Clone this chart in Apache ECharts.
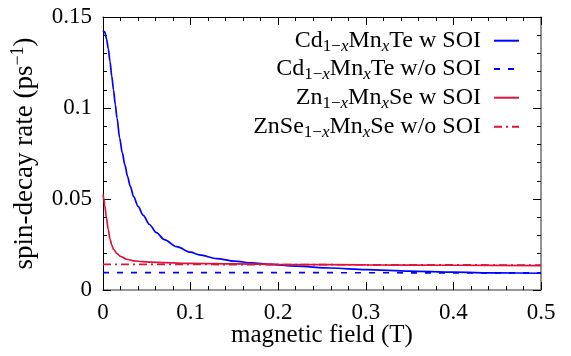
<!DOCTYPE html>
<html>
<head>
<meta charset="utf-8">
<script src="https://cdn.jsdelivr.net/npm/echarts@6/dist/echarts.min.js"></script>
<style>html,body{margin:0;padding:0;background:#fff}#c{width:571px;height:356px}</style>
</head>
<body>
<div id="c"></div>
<script>
// ---- data ----
const seriesNames = ['Cd1−xMnxTe w SOI', 'Cd1−xMnxTe w/o SOI', 'Zn1−xMnxSe w SOI', 'ZnSe1−xMnxSe w/o SOI'];
const legendRich = [
  'Cd{s|1−}{si|x}Mn{si|x}Te w SOI',
  'Cd{s|1−}{si|x}Mn{si|x}Te w/o SOI',
  'Zn{s|1−}{si|x}Mn{si|x}Se w SOI',
  'ZnSe{s|1−}{si|x}Mn{si|x}Se w/o SOI'
];
const xTicks = [0, 0.1, 0.2, 0.3, 0.4, 0.5];
const yTicks = [0, 0.05, 0.1, 0.15];

const fieldCdSOI = [0, 0.002, 0.004, 0.006, 0.008, 0.010, 0.012, 0.014, 0.016, 0.019, 0.022, 0.025, 0.028, 0.031, 0.035, 0.040, 0.046, 0.053, 0.061, 0.070, 0.084, 0.100, 0.110, 0.130, 0.150, 0.170, 0.190, 0.220, 0.260, 0.300, 0.350, 0.400, 0.450, 0.500];
const rateCdSOI  = [0.1425, 0.1418, 0.1380, 0.1327, 0.1255, 0.1175, 0.1100, 0.1020, 0.0945, 0.0835, 0.0755, 0.0687, 0.0625, 0.0572, 0.0513, 0.0460, 0.0410, 0.0360, 0.0315, 0.0277, 0.0238, 0.0208, 0.0193, 0.0172, 0.0159, 0.0149, 0.0141, 0.0131, 0.0121, 0.0112, 0.0104, 0.0098, 0.0094, 0.0092];

const fieldCdNoSOI = [0, 0.5];
const rateCdNoSOI  = [0.0096, 0.0094];

const fieldZnSOI = [0, 0.001, 0.002, 0.004, 0.006, 0.008, 0.010, 0.012, 0.016, 0.020, 0.027, 0.035, 0.045, 0.054, 0.070, 0.100, 0.150, 0.200, 0.300, 0.400, 0.500];
const rateZnSOI  = [0.0525, 0.0500, 0.0465, 0.0395, 0.0332, 0.0280, 0.0247, 0.0224, 0.0200, 0.0185, 0.0169, 0.0160, 0.0156, 0.0153, 0.0150, 0.0146, 0.0143, 0.0141, 0.0138, 0.0136, 0.0134];

const fieldZnNoSOI = [0, 0.5];
const rateZnNoSOI  = [0.0141, 0.0137];

const zip = (xs, ys) => xs.map((x, i) => [x, ys[i]]);

// ---- chart ----
const FONT = 'Liberation Serif';
const BLUE = '#0000ff', RED = '#dc143c';
const chart = echarts.init(document.getElementById('c'), null, {renderer: 'canvas'});

const rich = {
  s:  {fontFamily: FONT, fontSize: 17, color: '#000', padding: [12, 0, 0, 0]},
  si: {fontFamily: FONT, fontSize: 17, fontStyle: 'italic', color: '#000', padding: [12, 0, 0, 0]}
};
const rowCenters = [40.7, 69, 97.7, 126.7];
const legends = seriesNames.map((n, i) => ({
  data: [n],
  right: 51,
  top: rowCenters[i] - 12,
  orient: 'vertical',
  align: 'right',
  padding: 0,
  itemWidth: 25,
  itemHeight: 14,
  selectedMode: false,
  itemStyle: {opacity: 0},
  formatter: () => legendRich[i],
  textStyle: {fontFamily: FONT, fontSize: 24, color: '#000', padding: [0, 8, 0, 0], rich: rich}
}));

function axisParts(lineColor, lineWidth) {
  return {
    axisLine: {show: true, onZero: false, lineStyle: {color: lineColor, width: lineWidth}},
    axisTick: {show: true, inside: true, length: 8, lineStyle: {color: '#000', width: 1}},
    minorTick: {show: true, splitNumber: 5, length: 4, lineStyle: {color: '#000', width: 1}},
    splitLine: {show: false},
    minorSplitLine: {show: false}
  };
}

chart.setOption({
  animation: false,
  backgroundColor: '#fff',
  grid: {left: 103, right: 30, top: 17, bottom: 66, containLabel: false, outerBoundsMode: 'none'},
  legend: legends,
  xAxis: [
    Object.assign(axisParts('#777', 1.6), {
      type: 'value', position: 'bottom', min: xTicks[0], max: xTicks[xTicks.length - 1], interval: 0.1,
      name: 'magnetic field (T)', nameLocation: 'middle', nameGap: 33, nameMoveOverlap: false,
      nameTextStyle: {fontFamily: FONT, fontSize: 25, color: '#000'},
      axisLabel: {fontFamily: FONT, fontSize: 23, color: '#000', margin: 11}
    }),
    Object.assign(axisParts('#000', 1), {
      type: 'value', position: 'top', min: xTicks[0], max: xTicks[xTicks.length - 1], interval: 0.1,
      axisLabel: {show: false}
    })
  ],
  yAxis: [
    Object.assign(axisParts('#000', 1), {
      type: 'value', position: 'left', min: yTicks[0], max: yTicks[yTicks.length - 1], interval: 0.05,
      name: 'spin-decay rate (ps{sup|−1})', nameLocation: 'middle', nameGap: 63, nameRotate: 90, nameMoveOverlap: false,
      nameTextStyle: {fontFamily: FONT, fontSize: 27, color: '#000',
        rich: {sup: {fontFamily: FONT, fontSize: 18, color: '#000', padding: [0, 0, 13, 0]}}},
      axisLabel: {fontFamily: FONT, fontSize: 23, color: '#000', margin: 11}
    }),
    Object.assign(axisParts('#777', 1.6), {
      type: 'value', position: 'right', min: yTicks[0], max: yTicks[yTicks.length - 1], interval: 0.05,
      axisLabel: {show: false}
    })
  ],
  series: [
    {name: seriesNames[0], type: 'line', data: zip(fieldCdSOI, rateCdSOI), showSymbol: false, symbol: 'none',
     smooth: 0.3, smoothMonotone: 'x', color: BLUE, lineStyle: {color: BLUE, width: 1.7}},
    {name: seriesNames[1], type: 'line', data: zip(fieldCdNoSOI, rateCdNoSOI), showSymbol: false, symbol: 'none',
     color: BLUE, lineStyle: {color: BLUE, width: 1.7, type: [6, 8]}},
    {name: seriesNames[2], type: 'line', data: zip(fieldZnSOI, rateZnSOI), showSymbol: false, symbol: 'none',
     smooth: 0.3, smoothMonotone: 'x', color: RED, lineStyle: {color: RED, width: 1.7}},
    {name: seriesNames[3], type: 'line', data: zip(fieldZnNoSOI, rateZnNoSOI), showSymbol: false, symbol: 'none',
     color: RED, lineStyle: {color: RED, width: 1.7, type: [8, 4, 2, 4]}}
  ]
});
</script>
</body>
</html>
